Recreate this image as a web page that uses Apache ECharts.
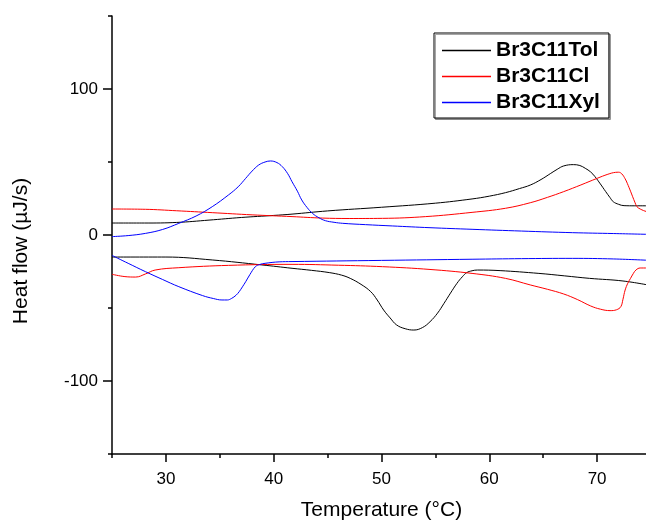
<!DOCTYPE html>
<html>
<head>
<meta charset="utf-8">
<script src="https://cdn.jsdelivr.net/npm/echarts@6/dist/echarts.min.js"></script>
<style>html,body{margin:0;padding:0;background:#fff}#c{width:646px;height:520px}</style>
</head>
<body>
<div id="c"></div>
<script>
// ---- data (temperature °C, heat flow µJ/s) ----
const seriesNames = ['Br3C11Tol', 'Br3C11Cl', 'Br3C11Xyl'];
const seriesColors = ['#000000', '#ff0000', '#0000ff'];

const tolHeating = [[25,8.2],[28,8.2],[31,8.6],[34,10.2],[37,12],[40,13.4],[41.7,14.3],[45,16.5],[50,19],[55,21.8],[58.4,24.7],[60,26.6],[61.5,29],[62.8,31.8],[63.8,34.2],[64.8,38],[65.7,42.2],[66.3,45],[66.9,47.3],[67.8,48.2],[68.4,47.6],[68.9,45.7],[69.4,43.2],[69.8,40],[70.3,35],[70.8,29.7],[71.2,25.6],[71.5,22.8],[72,21],[72.5,20.1],[73.5,20],[75,20]];
const tolCooling = [[25,-15.1],[30,-15.1],[34.3,-17.1],[38.9,-20.5],[41.7,-22.8],[43.5,-24.2],[45.2,-25.8],[46.3,-27.5],[47.1,-29.7],[48.1,-33.8],[49,-38.8],[49.6,-44.5],[50.2,-51.4],[50.8,-56.8],[51.4,-61.6],[52.2,-64.2],[53,-65.1],[53.8,-63.4],[54.5,-59.4],[55.2,-53.5],[55.8,-46.8],[56.4,-39.8],[57,-33.1],[57.5,-28.6],[57.9,-25.8],[58.4,-24.5],[58.9,-24],[61,-24.4],[64.6,-26.3],[67,-28],[69.3,-29.7],[72.4,-31.5],[75,-34.6]];

const clHeating = [[25,17.8],[28.1,17.6],[31,16.6],[34.3,15.3],[38,13.8],[41.7,12.6],[44.5,11.6],[47,11.3],[50.1,11.4],[54.1,12.6],[58.4,15.5],[61.5,18.3],[63.8,22.1],[65.4,25.8],[66.9,29.7],[68.5,34.3],[70,38.8],[71,41.6],[71.7,42.9],[72,43],[72.3,41.8],[72.6,38.5],[72.8,35.4],[73.1,30],[73.3,26.2],[73.5,22.5],[73.7,19.4],[74,17.8],[74.6,16],[75,15.6]];
const clCooling = [[25,-26.9],[26.2,-28.5],[27.2,-28.8],[28.1,-26.7],[29,-24],[31.2,-22.4],[35.8,-20.8],[41.7,-20.1],[46,-20.7],[50.1,-21.7],[54.5,-23.6],[58.4,-26.3],[61.5,-29.7],[63.8,-34.2],[65.4,-37.2],[66.9,-40.4],[68.2,-44.3],[69.4,-48.6],[70.3,-50.8],[71.2,-51.8],[71.8,-51.2],[72.2,-49.1],[72.4,-44],[72.6,-37.7],[72.85,-33],[73.1,-29.7],[73.35,-26.5],[73.6,-24],[74,-22.6],[75,-22.6]];

const xylHeating = [[25,-1.1],[26.5,-0.4],[28.1,1.1],[29.7,3.8],[31.2,8],[32.8,13],[34.3,19.4],[35.8,27.4],[36.7,33],[37.4,38.8],[38,43.8],[38.6,47.9],[39.2,50],[39.7,50.7],[40.3,49.6],[40.8,46.8],[41.3,42],[41.7,36.5],[42.2,30],[42.6,24],[43.1,18.8],[43.6,14.8],[44.2,11.8],[44.8,9.8],[45.6,8.7],[46.4,8],[48.5,7.1],[51,6.2],[54.5,5],[58.4,3.9],[63,2.7],[67.7,1.6],[71.5,1],[75,0.4]];
const xylCooling = [[25,-14],[26.5,-19.4],[28.1,-25.1],[29.7,-30.5],[31.2,-35.4],[33.4,-41.5],[34.4,-43.5],[35.2,-44.5],[35.7,-44.5],[36.1,-43.4],[36.5,-41.3],[36.8,-38.8],[37.1,-35.5],[37.4,-32],[37.8,-27],[38.3,-21.7],[38.7,-20.2],[39.2,-19.4],[40.5,-18.4],[41.7,-18.2],[50,-17.4],[58.4,-16.6],[63,-16.2],[67.7,-16],[71.5,-16.4],[75,-17.4]];

const curves = [[tolHeating, tolCooling], [clHeating, clCooling], [xylHeating, xylCooling]];

// ---- ticks ----
const xMajorTicks = [30, 40, 50, 60, 70];
const xMinorTicks = [25, 35, 45, 55, 65, 75];
const yMajorTicks = [-100, 0, 100];
const yMinorTicks = [-150, -50, 50, 150];

const FONT = 'Liberation Sans, Arial, Helvetica, sans-serif';
const chart = echarts.init(document.getElementById('c'));

const series = [];
curves.forEach((pair, i) => {
  pair.forEach(d => {
    series.push({
      name: seriesNames[i], type: 'line', data: d, xAxisIndex: 0, yAxisIndex: 0,
      showSymbol: false, symbol: 'none', smooth: 0.4, clip: false,
      lineStyle: { color: seriesColors[i], width: 1 }, itemStyle: { color: seriesColors[i] },
      animation: false
    });
  });
});

chart.setOption({
  animation: false,
  backgroundColor: '#fff',
  grid: { left: 112, top: 16, width: 539, height: 438, containLabel: false, outerBoundsMode: 'none' },
  legend: {
    data: seriesNames, orient: 'vertical', left: 434, top: 33,
    padding: [7, 9, 5, 8], itemGap: 5, itemWidth: 49, itemHeight: 1.3, icon: 'rect',
    borderColor: '#000', borderWidth: 1,
    shadowColor: 'rgba(0,0,0,0.35)', shadowOffsetX: 1.5, shadowOffsetY: 1.5, shadowBlur: 0,
    backgroundColor: '#fff',
    textStyle: { fontFamily: FONT, fontSize: 21, fontWeight: 'bold', color: '#000' }
  },
  xAxis: [{
    type: 'value', min: 25, max: 75, interval: 5, position: 'bottom',
    name: 'Temperature (°C)', nameLocation: 'middle', nameGap: 46,
    nameTextStyle: { fontFamily: FONT, fontSize: 21, color: '#000' },
    axisLine: { show: true, onZero: false, lineStyle: { color: '#000', width: 1.5 } },
    axisTick: { show: true, customValues: xMajorTicks, length: 8, lineStyle: { color: '#000', width: 1.5 } },
    axisLabel: { customValues: xMajorTicks, margin: 17, fontFamily: FONT, fontSize: 17, color: '#000' },
    splitLine: { show: false }
  }, {
    type: 'value', min: 25, max: 75, interval: 5, position: 'bottom', gridIndex: 0,
    axisLine: { show: false, onZero: false },
    axisTick: { show: true, customValues: xMinorTicks, length: 4, lineStyle: { color: '#000', width: 1.5 } },
    axisLabel: { show: false }, splitLine: { show: false }
  }],
  yAxis: [{
    type: 'value', min: -150, max: 150, interval: 50, position: 'left',
    name: 'Heat flow (µJ/s)', nameLocation: 'middle', nameGap: 80, nameRotate: 90,
    nameTextStyle: { fontFamily: FONT, fontSize: 21, color: '#000', padding: [0, 32, 0, 0] },
    axisLine: { show: true, onZero: false, lineStyle: { color: '#000', width: 1.5 } },
    axisTick: { show: true, customValues: yMajorTicks, length: 9, lineStyle: { color: '#000', width: 1.5 } },
    axisLabel: { customValues: yMajorTicks, margin: 14, fontFamily: FONT, fontSize: 17, color: '#000' },
    splitLine: { show: false }
  }, {
    type: 'value', min: -150, max: 150, interval: 50, position: 'left', gridIndex: 0,
    axisLine: { show: false, onZero: false },
    axisTick: { show: true, customValues: yMinorTicks, length: 4, lineStyle: { color: '#000', width: 1.5 } },
    axisLabel: { show: false }, splitLine: { show: false }
  }],
  series: series
});
</script>
</body>
</html>
